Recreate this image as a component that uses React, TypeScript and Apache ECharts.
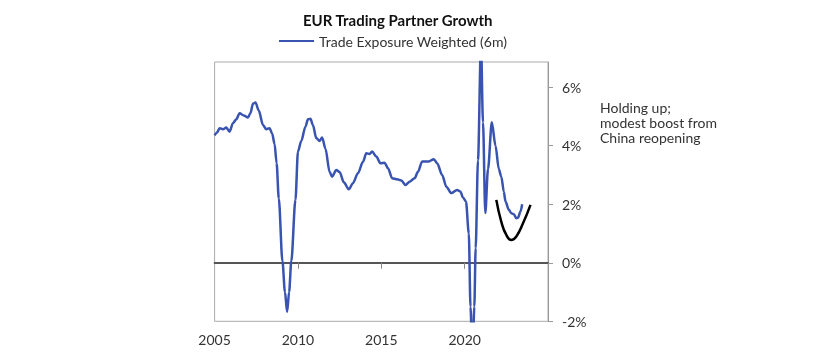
import React, { useEffect, useRef } from "react";
import * as echarts from "echarts";

const seriesName = "Trade Exposure Weighted (6m)";

const years = [
  2005.0, 2005.15, 2005.3, 2005.5, 2005.7, 2005.9, 2006.1, 2006.3, 2006.5, 2006.75,
  2007.0, 2007.15, 2007.3, 2007.45, 2007.65, 2007.9, 2008.1, 2008.3, 2008.45, 2008.6,
  2008.72, 2008.85, 2009.07, 2009.22, 2009.35, 2009.47, 2009.6, 2009.85, 2010.0, 2010.2,
  2010.45, 2010.6, 2010.75, 2010.9, 2011.1, 2011.3, 2011.45, 2011.65, 2011.9, 2012.05,
  2012.3, 2012.5, 2012.75, 2013.05, 2013.3, 2013.6, 2013.9, 2014.1, 2014.3, 2014.45,
  2014.7, 2014.95, 2015.2, 2015.4, 2015.65, 2015.95, 2016.2, 2016.45, 2016.7, 2017.0,
  2017.2, 2017.45, 2017.85, 2018.15, 2018.35, 2018.65, 2018.9, 2019.2, 2019.55, 2019.75,
  2019.9, 2020.08, 2020.25, 2020.35, 2020.47, 2020.58, 2020.66, 2020.8, 2020.98, 2021.1,
  2021.24, 2021.4, 2021.63, 2021.85, 2022.05, 2022.2, 2022.35, 2022.45, 2022.65, 2022.8,
  2022.95, 2023.1, 2023.2, 2023.35, 2023.45,
];

const growth = [
  4.35, 4.45, 4.6, 4.56, 4.62, 4.48, 4.77, 4.9, 5.11, 5.03,
  4.96, 5.11, 5.43, 5.48, 5.2, 4.71, 4.56, 4.6, 4.42, 4.05,
  3.4, 2.2, 0.05, -1.0, -1.68, -1.0, 0.05, 2.15, 3.8, 4.16,
  4.65, 4.9, 4.92, 4.7, 4.26, 4.16, 4.28, 3.9, 3.1, 2.94,
  3.17, 3.1, 2.75, 2.51, 2.72, 3.06, 3.45, 3.74, 3.72, 3.8,
  3.63, 3.4, 3.42, 3.23, 2.89, 2.85, 2.81, 2.66, 2.77, 2.89,
  3.11, 3.46, 3.46, 3.54, 3.4, 3.0, 2.6, 2.38, 2.49, 2.43,
  2.23, 2.09, 1.0, -1.5, -3.5, -1.5, 0.5, 3.5, 7.5, 4.8,
  1.7, 3.2, 4.8, 4.0, 3.2, 2.94, 2.43, 2.09, 1.81, 1.69,
  1.66, 1.52, 1.54, 1.75, 2.0,
];

const curveYears = [2021.9, 2022.2, 2022.5, 2022.8, 2023.1, 2023.5, 2023.95];
const curveValues = [2.15, 1.4, 0.95, 0.78, 0.9, 1.35, 1.98];

const xLabelValues = [2005, 2010, 2015, 2020];
const xTickValues = [2010, 2015, 2020];
const yTickValues = [-2, 0, 2, 4, 6];

const annotationLines = ["Holding up;", "modest boost from", "China reopening"];

export default function App() {
  const ref = useRef<HTMLDivElement>(null);
  useEffect(() => {
    const chart = echarts.init(ref.current!, null, { renderer: "svg" });
    chart.setOption({
      animation: false,
      textStyle: { fontFamily: "Lato" },
      title: {
        text: "EUR Trading Partner Growth",
        left: 298,
        top: 7,
        textStyle: { fontSize: 15, fontWeight: "bold", color: "#111", fontFamily: "Lato" },
      },
      legend: {
        data: [seriesName],
        left: 274,
        top: 29,
        icon: "rect",
        itemWidth: 35,
        itemHeight: 2,
        textStyle: { fontSize: 14, color: "#333", fontFamily: "Lato" },
      },
      grid: {
        left: 214.6,
        right: 292,
        top: 62,
        bottom: 36.7,
        show: true,
        borderColor: "#aaa",
        borderWidth: 1,
      },
      xAxis: [
        {
          type: "value",
          min: 2005,
          max: 2025,
          interval: 5,
          position: "bottom",
          axisLine: { show: false, onZero: false },
          axisTick: { show: false },
          splitLine: { show: false },
          axisLabel: {
            customValues: xLabelValues,
            fontSize: 14,
            color: "#333",
            margin: 11,
            formatter: (v: number) => String(v),
          },
        },
        {
          type: "value",
          min: 2005,
          max: 2025,
          interval: 5,
          position: "bottom",
          axisLine: { show: true, onZero: true, lineStyle: { color: "#555", width: 2 } },
          axisTick: { show: true, customValues: xTickValues, length: 6, lineStyle: { color: "#888" } },
          splitLine: { show: false },
          axisLabel: { show: false },
        },
      ],
      yAxis: {
        type: "value",
        position: "right",
        min: -2,
        max: 6.86,
        interval: 2,
        axisLine: { show: true, lineStyle: { color: "#999" } },
        axisTick: { show: true, customValues: yTickValues, length: 5, lineStyle: { color: "#999" } },
        splitLine: { show: false },
        axisLabel: {
          customValues: yTickValues,
          fontSize: 14,
          color: "#333",
          margin: 14,
          formatter: (v: number) => `${v}%`,
        },
      },
      series: [
        {
          name: seriesName,
          type: "line",
          xAxisIndex: 0,
          data: years.map((y, i) => [y, growth[i]]),
          showSymbol: false,
          symbol: "none",
          smooth: 0.3,
          smoothMonotone: "x",
          clip: true,
          lineStyle: { color: "#3853b0", width: 2.5 },
          itemStyle: { color: "#3853b0" },
        },
        {
          name: "annotation",
          type: "line",
          xAxisIndex: 0,
          data: curveYears.map((y, i) => [y, curveValues[i]]),
          showSymbol: false,
          symbol: "none",
          smooth: 0.5,
          lineStyle: { color: "#000", width: 2.5 },
          itemStyle: { color: "#000" },
        },
      ],
      graphic: annotationLines.map((line, i) => ({
        type: "text",
        left: 600,
        top: 100 + i * 15,
        style: {
          text: line,
          font: "14px Lato",
          lineHeight: 14,
          fill: "#333",
        },
      })),
    });
    return () => chart.dispose();
  }, []);
  return (
    <div
      ref={ref}
      style={{ position: "fixed", left: 0, top: 0, width: 840, height: 358 }}
    />
  );
}
